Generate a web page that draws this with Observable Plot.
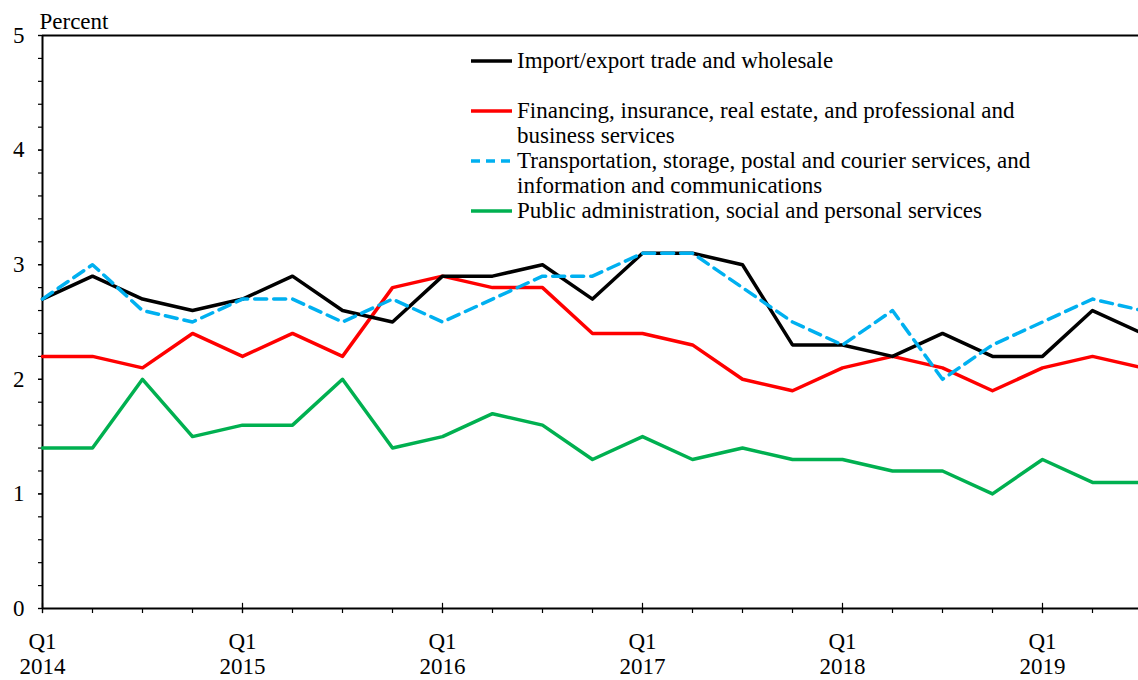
<!DOCTYPE html>
<html>
<head>
<meta charset="utf-8">
<script src="https://cdn.jsdelivr.net/npm/d3@7"></script>
<script src="https://cdn.jsdelivr.net/npm/@observablehq/plot@0.6"></script>
<style>
  html, body { margin: 0; padding: 0; background: #fff; overflow: hidden; }
  #wrap { position: relative; width: 1138px; height: 680px; font-family: "Liberation Serif", "Times New Roman", serif; }
  #wrap > svg { position: absolute; left: 0; top: 0; }
  #legend { position: absolute; left: 470px; top: 48px; font-size: 23px; line-height: 25px; color: #000; }
  .row { position: relative; padding-left: 47px; white-space: nowrap; }
  .row svg { position: absolute; left: 0; top: 10px; }
</style>
</head>
<body>
<div id="wrap"><div id="legend"></div></div>
<script>
const quarters = ["2014Q1","2014Q2","2014Q3","2014Q4","2015Q1","2015Q2","2015Q3","2015Q4",
  "2016Q1","2016Q2","2016Q3","2016Q4","2017Q1","2017Q2","2017Q3","2017Q4",
  "2018Q1","2018Q2","2018Q3","2018Q4","2019Q1","2019Q2","2019Q3"];
const tradeWholesale = [2.7,2.9,2.7,2.6,2.7,2.9,2.6,2.5,2.9,2.9,3.0,2.7,3.1,3.1,3.0,2.3,2.3,2.2,2.4,2.2,2.2,2.6,2.4];
const financing      = [2.2,2.2,2.1,2.4,2.2,2.4,2.2,2.8,2.9,2.8,2.8,2.4,2.4,2.3,2.0,1.9,2.1,2.2,2.1,1.9,2.1,2.2,2.1];
const transport      = [2.7,3.0,2.6,2.5,2.7,2.7,2.5,2.7,2.5,2.7,2.9,2.9,3.1,3.1,2.8,2.5,2.3,2.6,2.0,2.3,2.5,2.7,2.6];
const publicAdmin    = [1.4,1.4,2.0,1.5,1.6,1.6,2.0,1.4,1.5,1.7,1.6,1.3,1.5,1.3,1.4,1.3,1.3,1.2,1.2,1.0,1.3,1.1,1.1];
const seriesNames = [
  "Import/export trade and wholesale",
  "Financing, insurance, real estate, and professional and\nbusiness services",
  "Transportation, storage, postal and courier services, and\ninformation and communications",
  "Public administration, social and personal services"
];
const seriesColors = ["#000000", "#FF0000", "#00B0F0", "#00B050"];
const xTickLabels = ["Q1\n2014","Q1\n2015","Q1\n2016","Q1\n2017","Q1\n2018","Q1\n2019"];
const yTicks = [0,1,2,3,4,5];

const allSeries = [tradeWholesale, financing, transport, publicAdmin];
const rows = allSeries.map(vals => vals.map((v, i) => ({i, q: quarters[i], v})));
const qIdx = quarters.map((q, i) => i);
const q1Idx = qIdx.filter(i => quarters[i].endsWith("Q1"));
const minorY = d3.range(0, 51, 2).map(d => d / 10);

const font = "Liberation Serif";
const chart = Plot.plot({
  width: 1138, height: 680,
  marginTop: 35, marginBottom: 72, marginLeft: 42, marginRight: 0,
  x: {type: "linear", domain: [0, 22], range: [42, 1142], label: null},
  y: {domain: [0, 5], range: [608, 35], label: null},
  style: {fontFamily: font, fontSize: "23px", color: "#000", background: "transparent", overflow: "hidden"},
  marks: [
    Plot.axisY({ticks: minorY, tickSize: 4, tickFormat: () => "", strokeWidth: 1.2, label: null}),
    Plot.axisY({ticks: yTicks, tickSize: 4, tickPadding: 14, tickFormat: d3.format("d"), fontSize: 23, strokeWidth: 1.2, label: null}),
    Plot.axisX({ticks: qIdx, tickSize: 5, tickFormat: () => "", strokeWidth: 1.2, label: null}),
    Plot.ruleX(q1Idx, {x: d => d, y1: -0.045, y2: 0.045, stroke: "#000", strokeWidth: 1.2}),
    Plot.text(q1Idx, {x: d => d, y: 0, text: (d, k) => xTickLabels[k], dy: 45, lineHeight: 1.1, fontSize: 23, fill: "#000"}),
    Plot.text([0], {x: d => d, y: 5, text: () => "Percent", textAnchor: "start", dx: -3, dy: -14, fontSize: 23, fill: "#000"}),
    Plot.ruleY([5], {stroke: "#000", strokeWidth: 2}),
    Plot.ruleY([0], {stroke: "#000", strokeWidth: 2}),
    Plot.ruleX([0], {stroke: "#000", strokeWidth: 2}),
    Plot.line(rows[3], {x: "i", y: "v", stroke: seriesColors[3], strokeWidth: 3.5}),
    Plot.line(rows[1], {x: "i", y: "v", stroke: seriesColors[1], strokeWidth: 3.5}),
    Plot.line(rows[0], {x: "i", y: "v", stroke: seriesColors[0], strokeWidth: 3.5}),
    Plot.line(rows[2], {x: "i", y: "v", stroke: seriesColors[2], strokeWidth: 3.5, strokeDasharray: "12,7"})
  ]
});
document.getElementById("wrap").prepend(chart);

// legend
const legend = document.getElementById("legend");
const gaps = [0, 25, 0, 0];
seriesNames.forEach((name, k) => {
  const row = document.createElement("div");
  row.className = "row";
  row.style.marginTop = gaps[k] + "px";
  const dash = k === 2 ? 'stroke-dasharray="9,6"' : '';
  row.innerHTML = `<svg width="44" height="6"><line x1="1" y1="3" x2="42" y2="3" stroke="${seriesColors[k]}" stroke-width="3.5" ${dash}/></svg>` +
    name.split("\n").join("<br>");
  legend.appendChild(row);
});
</script>
</body>
</html>
